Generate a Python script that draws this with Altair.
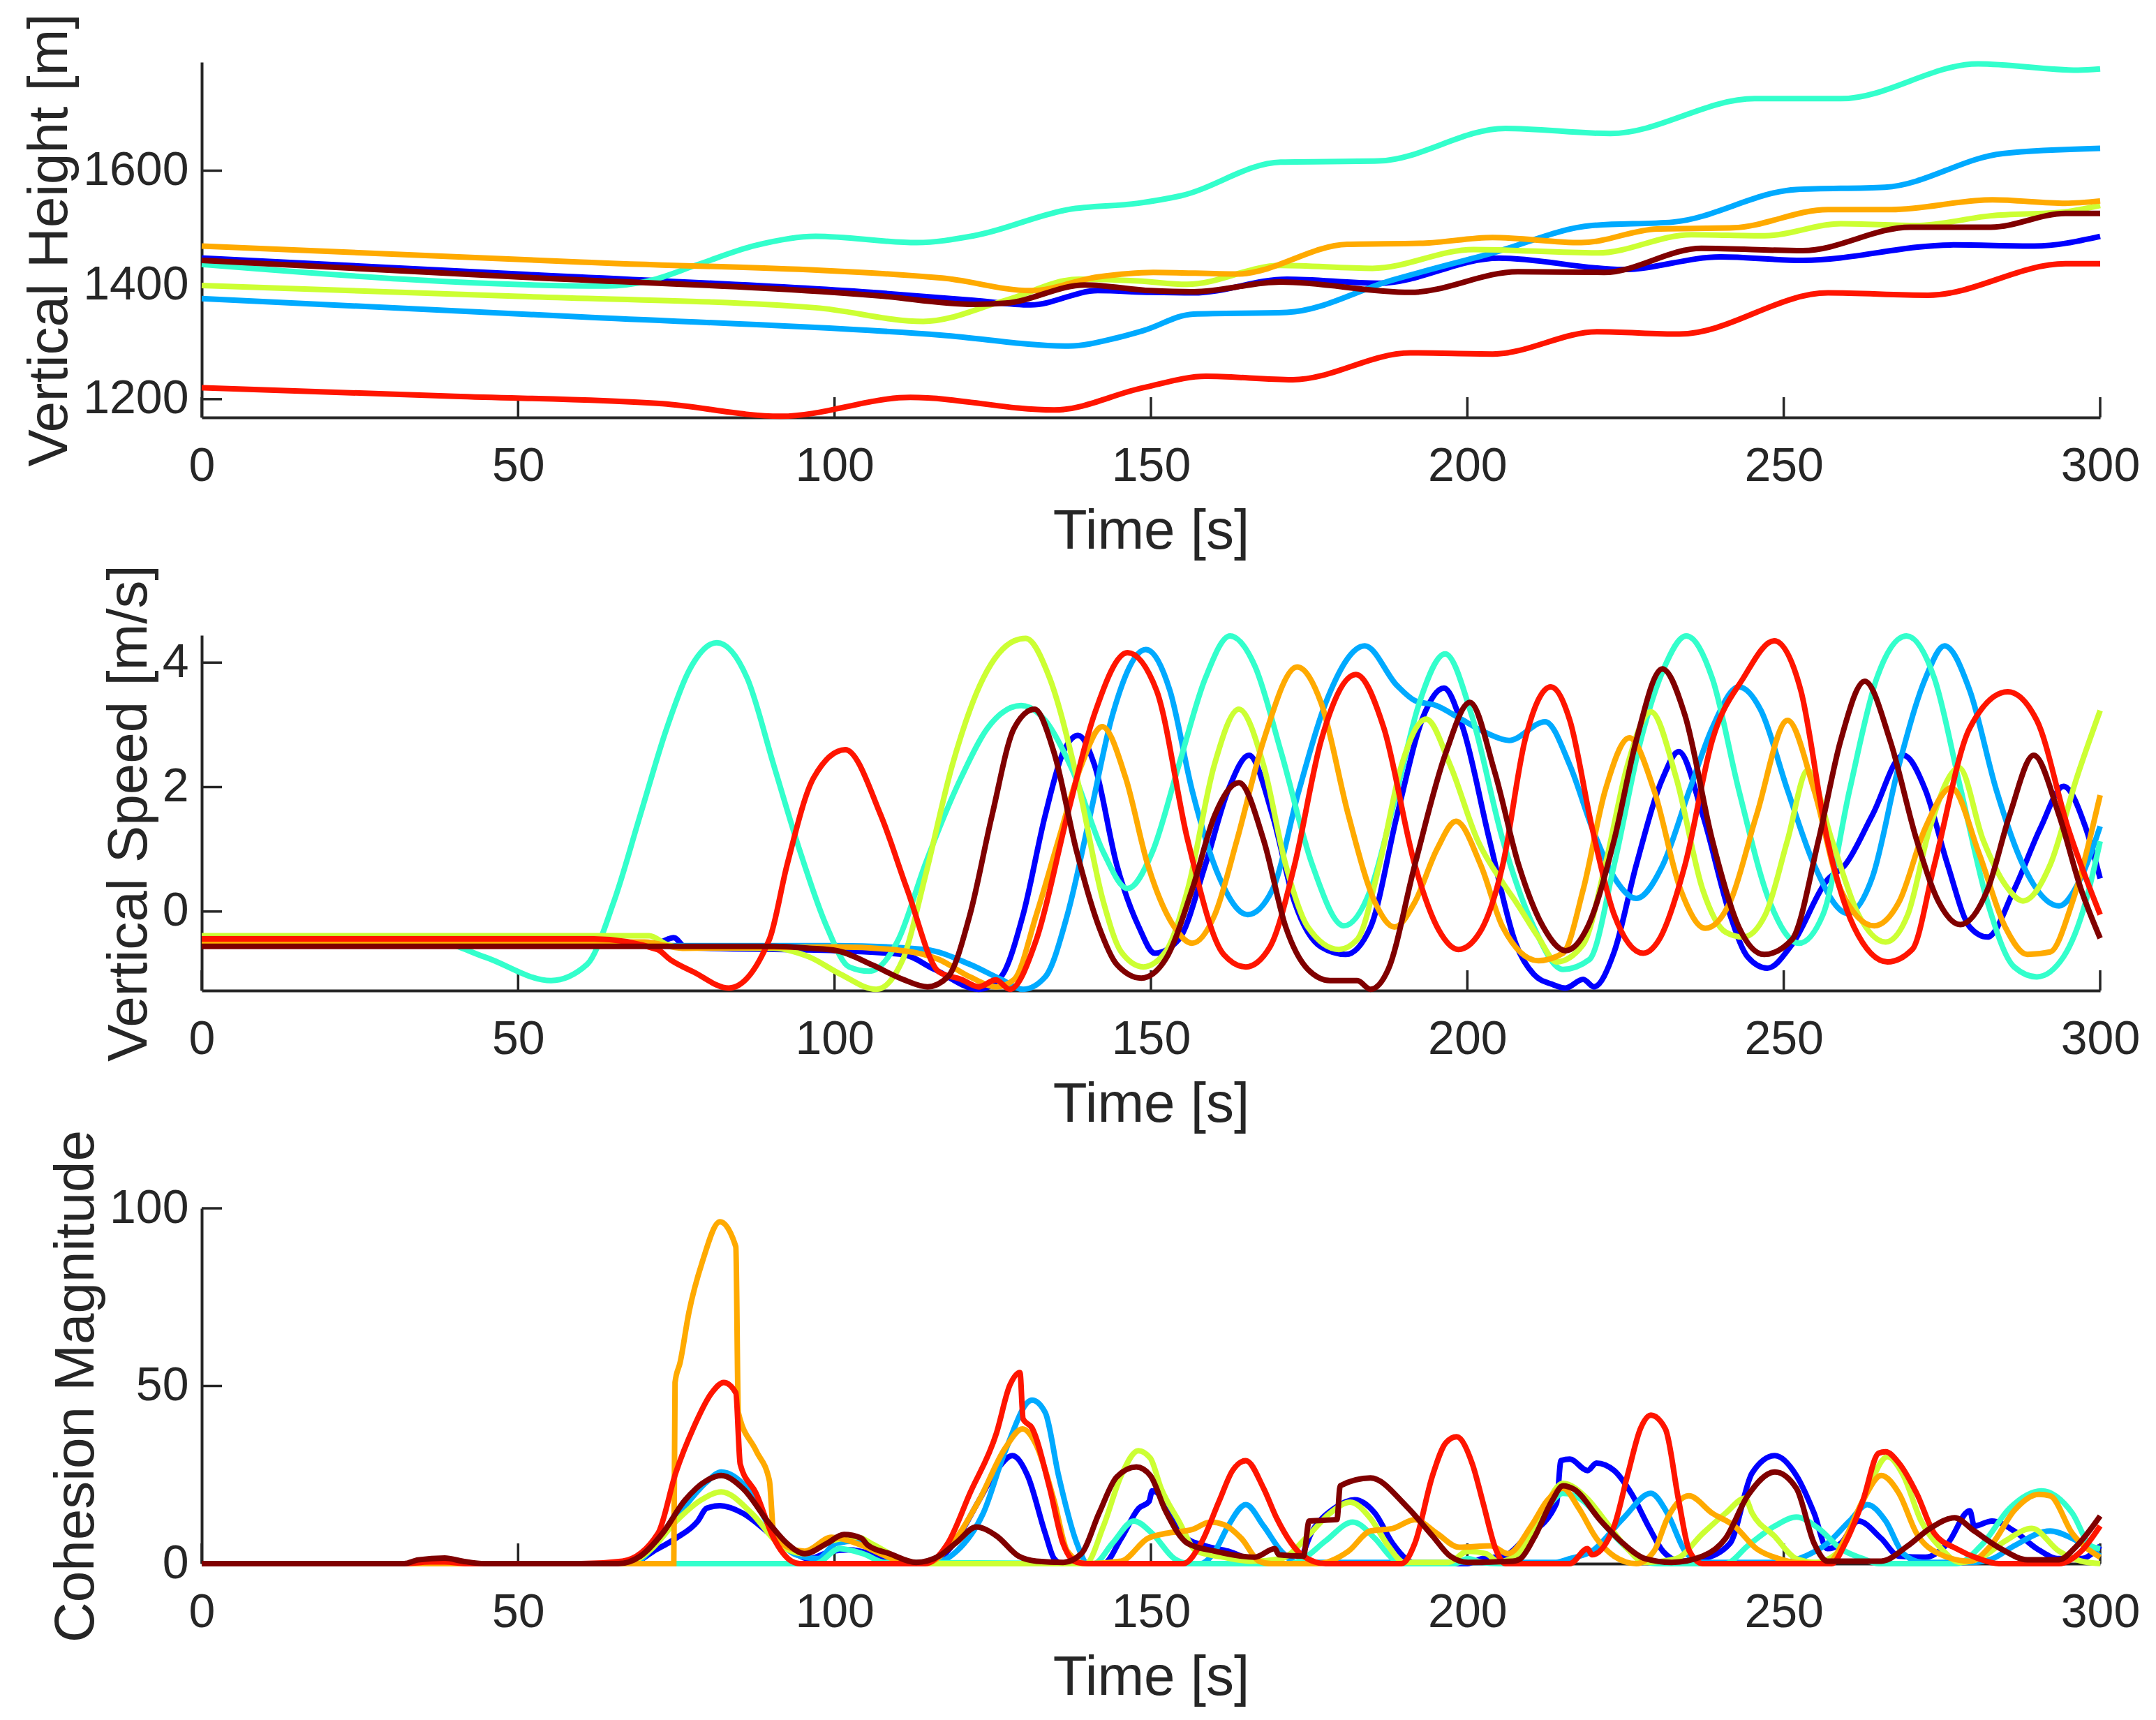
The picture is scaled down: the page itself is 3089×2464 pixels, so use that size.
import altair as alt
import pandas as pd

# Jet-like colour per agent, in drawing order (last one on top)
COLORS = ["#0000FF", "#00AAFF", "#33FFCC", "#CCFF33", "#FFAA00", "#FF1500", "#800000"]
T_TICKS = [0, 50, 100, 150, 200, 250, 300]
AXIS_COLOR = "#262626"
W, H = 2720, 509
TICK_LEN = 29

# ---- Vertical height [m], (t, value) ----
height_blue = [(0, 1447), (50, 1419), (107, 1386), (122, 1373), (131, 1365), (141.6, 1390), (150, 1387),
               (156.7, 1386), (171.5, 1410), (186, 1403), (205, 1447), (224.6, 1427), (240, 1449),
               (253, 1443), (276.8, 1470), (289.6, 1468), (300, 1485)]
height_lightblue = [(0, 1376), (60, 1344), (117, 1312), (137, 1293), (144.5, 1307), (148.8, 1320),
                    (156.7, 1349), (171.5, 1352), (188, 1408), (204, 1456), (219.7, 1504), (232.5, 1510),
                    (252, 1567), (266, 1571), (284.6, 1630), (300, 1639)]
height_turquoise = [(0, 1436), (64, 1398), (71, 1408), (78, 1434), (87.5, 1469), (97, 1485), (113, 1474),
                    (122, 1486), (137, 1532), (148, 1543), (154.7, 1556), (170.5, 1615), (186, 1617),
                    (206, 1674), (222.6, 1665), (245.4, 1726), (259, 1726), (280.7, 1787), (296.5, 1776),
                    (300, 1778)]
height_yellowgreen = [(0, 1399), (50, 1380), (97, 1360), (114, 1336), (127, 1373), (138.6, 1410),
                      (148, 1407), (155.7, 1401), (170.5, 1434), (185, 1429), (201, 1462), (220.6, 1456),
                      (235.4, 1488), (247, 1486), (259, 1507), (271, 1504), (282.7, 1521), (294.5, 1528),
                      (300, 1539)]
height_orange = [(0, 1468), (60, 1440), (117, 1412), (131, 1390), (141.6, 1414), (150.4, 1422),
                 (163.6, 1419), (181, 1471), (193, 1473), (204, 1483), (218, 1474), (230, 1498),
                 (242, 1500), (257, 1532), (267, 1532), (283, 1549), (294.5, 1543), (300, 1547)]
height_red = [(0, 1220), (40, 1205), (72.8, 1192), (91.5, 1170), (112, 1203), (134.7, 1181), (148.8, 1220),
              (158.7, 1240), (172.4, 1234), (191, 1281), (204, 1279), (220.6, 1318), (233.5, 1314),
              (257, 1386), (272.8, 1382), (294.5, 1437), (300, 1437)]
height_darkred = [(0, 1443), (50, 1414), (107, 1381), (122, 1366), (127, 1368), (139.6, 1400), (150, 1390),
                  (156.7, 1388), (170.5, 1405), (191, 1387), (208, 1423), (221.6, 1422), (237, 1464),
                  (253, 1460), (270, 1501), (282.7, 1501), (294.5, 1525), (300, 1525)]

# ---- Vertical speed [m/s], (t, value) ----
speed_blue = [(0, -0.53), (70, -0.53), (72.5, -0.49), (74.6, -0.42), (76.5, -0.58), (100.4, -0.63),
              (110.8, -0.69), (115.8, -0.93), (122.8, -1.25), (126.3, -1.05), (129.8, -0.05), (133.3, 1.55),
              (136.1, 2.55), (138.5, 2.83), (141.1, 2.35), (144.6, 0.75), (148.1, -0.25), (150.6, -0.67),
              (154.4, -0.45), (158.6, 0.75), (162.2, 1.95), (165.5, 2.51), (169.2, 1.55), (172.7, 0.15),
              (176.9, -0.57), (180.8, -0.69), (184.7, -0.25), (188.9, 1.55), (193.1, 3.15), (196.3, 3.59),
              (199.3, 2.95), (203.5, 1.15), (207.7, -0.53), (210.5, -1.01), (213.4, -1.17), (215.5, -1.23),
              (218.3, -1.09), (220, -1.21), (223.2, -0.65), (226.7, 0.75), (230.9, 2.15), (233.4, 2.57),
              (237.2, 1.55), (241.5, -0.05), (244.3, -0.73), (247.4, -0.91), (251.3, -0.53), (256.9, 0.51),
              (259.7, 0.75), (264, 1.55), (268.9, 2.51), (272.4, 1.95), (275.9, 0.75), (279.4, -0.25),
              (282.2, -0.41), (286.4, 0.35), (290.6, 1.35), (294.2, 2.01), (297.7, 1.35), (300, 0.53)]
speed_lightblue = [(0, -0.55), (100.4, -0.55), (114.3, -0.61), (121.4, -0.85), (126.3, -1.09),
                   (129.8, -1.25), (133.3, -1.05), (136.8, -0.05), (140.4, 1.55), (143.9, 3.15),
                   (149.2, 4.21), (153, 3.55), (156.5, 1.95), (160.8, 0.55), (165.3, -0.05), (169.2, 0.35),
                   (173.4, 1.95), (177.6, 3.35), (183.8, 4.27), (188.9, 3.63), (191.7, 3.39), (195.1, 3.31),
                   (198.7, 3.11), (203, 2.87), (206.6, 2.75), (212.3, 3.05), (216.2, 2.35), (219.7, 1.35),
                   (223.2, 0.55), (226.7, 0.21), (230.9, 0.75), (235.1, 1.95), (238.7, 2.95), (242.9, 3.61),
                   (246.4, 3.23), (250.6, 1.95), (254.8, 0.75), (260.1, -0.03), (264, 0.55), (268.2, 2.35),
                   (272.4, 3.75), (275.4, 4.27), (279.4, 3.55), (283.6, 1.95), (287.8, 0.75), (293.5, 0.09),
                   (297, 0.55), (300, 1.37)]
speed_turquoise = [(0, -0.51), (37.7, -0.51), (44.7, -0.73), (55.2, -1.11), (60.9, -0.85), (65.1, 0.15),
                   (69.3, 1.55), (73.5, 2.95), (77, 3.87), (81.4, 4.32), (86.2, 3.75), (90.4, 2.35),
                   (94.6, 0.95), (98.8, -0.25), (102.3, -0.89), (105.5, -0.96), (110.1, -0.45), (114.3, 0.75),
                   (120, 2.15), (124.2, 2.95), (129.5, 3.31), (133.3, 3.07), (137.6, 2.27), (142.5, 0.95),
                   (146.3, 0.37), (150.2, 0.95), (154.4, 2.35), (158.6, 3.75), (162.5, 4.43), (166.4, 3.95),
                   (170.6, 2.55), (175.5, 0.75), (180.5, -0.23), (184.7, 0.35), (188.9, 1.95), (192.4, 3.35),
                   (196.5, 4.14), (200.7, 3.15), (205.6, 1.15), (210.5, -0.25), (215.1, -0.93), (219.3, -0.77),
                   (223.2, 0.75), (227.4, 2.75), (230.9, 3.87), (234.6, 4.43), (238.7, 3.75), (242.9, 1.95),
                   (247.8, 0.15), (252.4, -0.51), (256.2, -0.05), (260.4, 1.95), (264.7, 3.75), (269.4, 4.43),
                   (273.8, 3.75), (278, 1.95), (282.2, 0.15), (286.4, -0.89), (290, -1.05), (294.2, -0.73),
                   (297.7, 0.15), (300, 1.13)]
speed_yellowgreen = [(0, -0.39), (70.7, -0.39), (73.5, -0.53), (76, -0.58), (90.4, -0.59), (96, -0.73),
                     (101, -1.01), (106.6, -1.25), (110.8, -0.77), (114.3, 0.55), (118.6, 2.35), (123.5, 3.75),
                     (128.4, 4.35), (130.2, 4.39), (134, 3.75), (138.3, 2.15), (142.5, 0.15), (145.3, -0.65),
                     (148.8, -0.89), (152.3, -0.65), (155.8, 0.35), (160, 2.35), (163.9, 3.25), (167.8, 2.35),
                     (171.3, 0.75), (174.8, -0.25), (179.7, -0.61), (182.6, -0.45), (186.1, 0.75), (189.6, 2.35),
                     (193.5, 3.09), (197.3, 2.35), (201.6, 1.15), (205.8, 0.43), (207.7, 0.15), (211.2, -0.41),
                     (214.1, -0.81), (218.3, -0.53), (221.8, 0.75), (225.3, 2.35), (229, 3.21), (233, 2.15),
                     (237.2, 0.35), (240.8, -0.33), (243.6, -0.41), (247.1, -0.05), (250.6, 1.15), (253.8, 2.27),
                     (257.6, 1.15), (261.8, -0.05), (266.1, -0.49), (269.6, -0.05), (273.1, 1.35), (277.7, 2.31),
                     (281.5, 1.15), (285, 0.43), (287.8, 0.17), (292.1, 0.75), (296.3, 2.15), (300, 3.23)]
speed_orange = [(0, -0.49), (70, -0.49), (76, -0.59), (100.4, -0.57), (110.8, -0.63), (116.5, -0.77),
                (121.4, -1.05), (125.6, -1.21), (128.4, -1.09), (131.9, -0.05), (135.4, 1.15), (139, 2.35),
                (142.3, 2.97), (146, 2.15), (149.5, 0.75), (153.7, -0.25), (156.5, -0.51), (160.1, -0.05),
                (163.6, 1.15), (167.8, 2.75), (173.1, 3.93), (176.9, 3.35), (181.2, 1.55), (185.4, 0.15),
                (188.5, -0.25), (191.7, 0.15), (195.2, 1.0), (198.2, 1.45), (202.1, 0.75), (205.6, -0.25),
                (211.2, -0.79), (215.1, -0.67), (218.3, 0.35), (221.8, 1.95), (225.6, 2.79), (229.5, 1.95),
                (233.7, 0.35), (237.6, -0.27), (241.5, 0.15), (245.7, 1.55), (250.6, 3.07), (254.8, 1.95),
                (259, 0.35), (264.3, -0.23), (268.2, 0.15), (272.4, 1.35), (276.5, 1.99), (280.8, 0.95),
                (285, -0.25), (288.5, -0.69), (292.1, -0.65), (295.6, 0.15), (300, 1.87)]
speed_red = [(0, -0.44), (62, -0.44), (72, -0.61), (74, -0.77), (77.7, -0.97), (83.3, -1.23), (89.7, -0.45),
             (92.5, 0.75), (96.7, 2.15), (101.7, 2.6), (107.3, 1.55), (111.5, 0.35), (116.5, -0.97),
             (120, -1.09), (122.8, -1.21), (125.5, -1.1), (127.7, -1.25), (131.9, -0.45), (136.8, 1.55),
             (141, 3.15), (146.3, 4.16), (150.9, 3.55), (155.8, 1.15), (161.5, -0.69), (165, -0.89),
             (168.8, -0.57), (172.7, 0.75), (176.9, 2.75), (182.4, 3.81), (186.8, 2.95), (191.7, 0.75),
             (195.5, -0.3), (198.6, -0.61), (202, -0.33), (205.6, 0.75), (209.1, 2.75), (213.2, 3.61),
             (216.2, 3.07), (219.7, 1.35), (223.2, -0.05), (227.8, -0.67), (230.2, -0.47), (234.4, 0.75),
             (238.7, 2.75), (243.6, 3.75), (248.5, 4.35), (252.7, 3.55), (256.9, 1.15), (261.1, -0.25),
             (266.4, -0.81), (270.3, -0.61), (273.8, 0.75), (279.4, 2.95), (285.4, 3.53), (290, 3.07),
             (294.9, 1.35), (300, -0.05)]
speed_darkred = [(0, -0.56), (90.4, -0.56), (96, -0.59), (100.4, -0.63), (106, -0.86), (110.8, -1.09),
                 (114.7, -1.21), (117.9, -1.05), (121.4, -0.05), (124.9, 1.55), (128.4, 2.95), (131.6, 3.25),
                 (134.7, 2.55), (138.3, 0.95), (141.8, -0.25), (144.6, -0.85), (148.5, -1.07), (152.3, -0.77),
                 (156.5, 0.35), (160.1, 1.55), (163.9, 2.07), (167.8, 1.15), (171.3, -0.25), (174.8, -0.93),
                 (178.3, -1.11), (182.6, -1.11), (184.7, -1.25), (187.5, -0.93), (191.7, 0.75), (196.6, 2.55),
                 (200.4, 3.36), (204.3, 2.25), (208.1, 0.75), (212, -0.25), (215.5, -0.63), (219, -0.25),
                 (223.2, 1.15), (226.7, 2.75), (230.8, 3.9), (234.4, 3.15), (238.7, 1.15), (242.9, -0.25),
                 (246.9, -0.69), (251.3, -0.45), (255.5, 1.15), (259, 2.75), (262.8, 3.7), (266.8, 2.75),
                 (271, 1.15), (274.5, 0.15), (277.9, -0.21), (282.2, 0.35), (285.7, 1.55), (289.5, 2.51),
                 (293.5, 1.55), (297, 0.35), (300, -0.43)]

# ---- Cohesion magnitude, (t, value) ----
coh_blue = [(0, 0), (67.9, 0), (71.4, 3.5), (74.9, 7.1), (78.4, 12), (79.8, 15.6), (81.9, 16.3), (85.5, 14.2),
            (89.7, 8.5), (93.2, 3.5), (96, 1.4), (99.5, 3.5), (102.3, 3.9), (105.8, 2.8), (109.2, 0.7),
            (112, 0), (115, 0), (118.6, 5.0), (122.8, 17.7), (125.6, 26.2), (128.1, 30.4), (130.5, 24.8),
            (133.3, 8.5), (134.7, 1.4), (136, 0), (142.5, 0), (145.3, 7.1), (148.1, 15.6), (149.7, 17.5),
            (150.2, 20.5), (152.5, 17), (155.1, 7.8), (158.6, 5.0), (162.2, 3.5), (166.4, 0.7), (168, 0),
            (173, 0), (175.5, 9.2), (179, 15.6), (182.2, 18), (185.4, 14.2), (188.2, 5.7), (190.3, 1.4),
            (192, 0), (200, 0), (202.3, 1.4), (205.8, 2.1), (209.1, 7.1), (214.1, 17), (214.8, 29),
            (216.2, 29.4), (219, 26.2), (220.4, 28.3), (223.2, 26.2), (225.9, 19.8), (228.8, 9.9),
            (230.9, 3.5), (233.7, 0.7), (237.2, 1.4), (241.5, 5.7), (245, 25.5), (248.6, 30.4), (252, 24.8),
            (254.8, 14.2), (256.9, 4.2), (259, 5.7), (261.8, 12), (265.4, 7.1), (268.2, 2.1), (272.4, 1.8),
            (275.9, 5.7), (279.4, 14.9), (280.1, 10.6), (282.9, 12), (286.4, 9.2), (290, 4.2), (293.5, 1.4),
            (297, 1.4), (300, 5.0)]
coh_lightblue = [(0, 0), (68, 0), (72, 6), (76.3, 16), (79.8, 23), (82.1, 25.8), (86.2, 21.2), (90.4, 8.5),
                 (93.9, 2.5), (97.4, 1.4), (100.2, 5.7), (103.7, 6.4), (106, 4.2), (109.2, 1.4), (111, 0.35),
                 (116, 0.35), (119.3, 3.5), (123.5, 14.2), (127, 31.8), (131.2, 46), (133.3, 42.5),
                 (135.4, 24.8), (138.3, 5.7), (140, 0), (157.9, 0), (160.1, 3.5), (162.2, 10.6), (165, 16.6),
                 (167.8, 10.6), (170.6, 3.5), (173, 0.35), (214, 0.35), (216.2, 1.4), (219.7, 3.5),
                 (224.6, 12.7), (229, 19.8), (231.6, 14.2), (234.4, 3.5), (237, 0.35), (250, 0.35),
                 (253.4, 2.1), (256.9, 5.7), (260.4, 12), (263.2, 16.6), (266.1, 12), (268.9, 2.8),
                 (272, 0.35), (280, 0.35), (283, 1.4), (286.4, 5.0), (292.1, 9.2), (295.6, 7.1), (300, 2.1)]
coh_turquoise = [(0, 0), (97, 0), (100.8, 4.2), (104.5, 2.8), (108, 0.35), (141, 0), (143.9, 5.7),
                 (147.3, 12), (150.2, 8.5), (153.7, 1.4), (156, 0), (172, 0), (174.1, 1.4), (177.6, 6.4),
                 (181.9, 11.7), (185.4, 7.1), (188.2, 1.4), (190, 0), (198, 0), (200.1, 1.4), (202, 0.5),
                 (205, 0), (207, 0), (209.1, 5.7), (212.6, 15.6), (215.1, 19.8), (218.3, 17.7), (221.8, 10.6),
                 (225.3, 4.2), (228.1, 0.7), (230, 0), (240.8, 0), (244.3, 5.0), (248.6, 10.6), (252, 13.1),
                 (255.5, 9.9), (259, 4.2), (262.5, 1.4), (265, 0), (277.3, 0), (281.5, 5.7), (285.7, 15.6),
                 (290.7, 20.5), (295.6, 14.2), (298.5, 5.0), (300, 4.2)]
coh_yellowgreen = [(0, 0), (67, 0), (71, 4), (75, 12), (79, 18), (82.1, 20.2), (86.9, 14.2), (91.1, 5.7),
                   (95.3, 2.8), (99.5, 6.4), (103.7, 7.4), (106, 5.5), (110.8, 1.1), (114.3, 0), (139.7, 0),
                   (142.5, 10.6), (145.3, 24.8), (148, 31.8), (149.9, 29.7), (151.6, 21.2), (154.4, 12),
                   (157.2, 3.5), (161.5, 1.8), (166, 0.7), (170.6, 1.4), (174.8, 7.8), (178.3, 14.2),
                   (181.5, 17.3), (184.7, 12.7), (187.5, 5.0), (190, 0.35), (197, 0.35), (200.1, 3.5),
                   (203, 2.8), (204.9, 0.5), (208.4, 3.5), (211.2, 12), (215.1, 22.6), (218.9, 18.4),
                   (221.8, 12), (225.3, 4.2), (228, 0.35), (233, 1.4), (237.2, 8.5), (240.8, 14.2),
                   (243.9, 18.4), (245, 14.2), (248.5, 7.8), (252, 1.4), (255, 0.35), (258.3, 2.8),
                   (262.5, 17.7), (266.4, 30.1), (268.9, 24.8), (271.7, 12), (274.5, 5.0), (278, 0.35),
                   (281, 1.5), (285, 6.4), (289.2, 9.9), (293.5, 3.5), (297, 0.7), (300, 0)]
coh_orange = [(0, 0), (74.6, 0), (74.8, 51), (75.6, 56.6), (77, 70.8), (79.1, 84.9), (81.9, 96.2),
              (84.4, 89.2), (84.8, 42.5), (87.6, 31.8), (89.7, 23.4), (90.4, 8.5), (93.2, 4.2), (95.3, 3.5),
              (99.5, 7.4), (103, 6), (104.5, 5.0), (109.2, 1.4), (110.8, 0.7), (114.3, 0), (117.9, 4.2),
              (122.8, 17.7), (127, 32.6), (129.7, 37.9), (131.9, 33.3), (134.7, 17.7), (136.8, 3.5),
              (139.7, 0), (145.3, 0.7), (149.5, 7.1), (152.3, 8.5), (156.5, 9.6), (159.4, 11.7), (161.5, 11),
              (164.3, 7.1), (167.1, 0.7), (169, 0), (176.2, 0), (181.2, 3.5), (184.7, 9.2), (188.2, 9.9),
              (191.7, 12.4), (195.2, 8.5), (198.7, 4.6), (203.7, 5.0), (206.4, 2.8), (210.1, 10.6),
              (212.6, 17.7), (215.1, 21.2), (217.6, 15.6), (220.4, 7.1), (223.2, 2.1), (226.7, 0),
              (229.5, 3.5), (231.6, 12.7), (235, 19.1), (238.7, 14.2), (242.2, 10.6), (245.7, 4.2),
              (249.2, 1.4), (252, 0.3), (256.9, 0), (259.7, 7.1), (262.5, 17.7), (265.4, 24.8), (268.2, 19.8),
              (271, 8.5), (274.5, 2.8), (279.4, 0.7), (283, 5.7), (286.4, 14.9), (290.3, 19.5), (292.1, 19.1),
              (295.6, 8.5), (300, 1.8)]
coh_red = [(0, 0), (32, 0), (36, 0.5), (38.4, 0.5), (42, 0), (60, 0), (66.5, 0.7), (72.1, 8.5), (74.9, 25.5),
           (77.7, 38.2), (80.6, 48.1), (82.5, 51), (84.4, 48.1), (85.1, 28), (87.6, 19.8), (90.4, 7.1),
           (93.2, 0.7), (94.5, 0), (114.3, 0), (117.9, 5.7), (121.4, 19.8), (125.6, 36.8), (127.7, 50.2),
           (129.3, 53.8), (129.8, 40.7), (131.2, 38.2), (134, 21.2), (136.1, 5.7), (138.3, 0.35), (140, 0),
           (155.1, 0), (157.9, 5.7), (160.8, 17.7), (162.9, 26.2), (165, 29), (167.8, 21.2), (169.9, 12.7),
           (174.1, 2.1), (177.6, 0), (189.6, 0), (191.7, 5.7), (194.5, 24.8), (196.6, 34), (198.3, 35.7),
           (200.8, 28), (202.5, 17), (204.5, 4), (206, 0), (216.2, 0), (219, 4.2), (219.7, 2.5),
           (223.2, 10.6), (225.3, 24.8), (227.4, 38.2), (229, 41.8), (231.3, 37.9), (233.4, 17.7),
           (235.1, 3.5), (237.2, 0), (257.6, 0), (259.7, 5.7), (262.5, 17.7), (265, 31.1), (266.1, 31.5),
           (268.2, 28.3), (271, 19.8), (273.8, 8.5), (277.3, 4.2), (280.8, 1.4), (284, 0), (293.5, 0),
           (297, 3.5), (300, 10.6)]
coh_darkred = [(0, 0), (32, 0), (34.2, 1.06), (38.4, 1.56), (41.2, 0.7), (44.7, 0), (65.8, 0), (69.3, 2.1),
               (72.8, 8.5), (76.3, 17.7), (79.8, 23.4), (82.1, 24.8), (85.5, 21.2), (89.7, 11.3), (92.5, 5.7),
               (95.3, 2.8), (98.8, 5.7), (101.5, 8.2), (104.2, 7.2), (105.2, 5.3), (108.7, 2.8), (112.9, 0.35),
               (116.5, 2.1), (119.3, 6.0), (122.4, 10.3), (125.6, 7.8), (129.1, 2.1), (131.9, 0.7),
               (136.1, 0.35), (139, 2.8), (141.8, 14.2), (144.6, 24.4), (147.7, 27.2), (149.9, 24.8),
               (152.3, 14.9), (155.8, 5.7), (160.1, 3.5), (166.4, 1.8), (169.6, 4.2), (170.2, 2.5),
               (174.1, 2.1), (175, 12), (179.4, 12.4), (179.9, 21.9), (184.7, 24.1), (190.3, 16.3),
               (194.5, 7.8), (197.3, 2.1), (200.1, 0.35), (207.2, 0.7), (208.4, 1.4), (210.5, 7.1),
               (213.4, 17.7), (215.1, 21.9), (216.9, 20.9), (221.1, 12), (224.6, 5.7), (228.1, 1.4),
               (232.3, 0.35), (237.2, 2.1), (240.8, 7.1), (244.3, 19.1), (248.6, 25.8), (252, 21.2),
               (254.8, 5.7), (256.9, 0.7), (265.4, 0.7), (269.6, 5.0), (273.1, 9.9), (277, 12.9),
               (280.1, 9.2), (284.3, 4.2), (288.5, 1.1), (293.5, 1.1), (296.3, 5.0), (300, 13.4)]

HEIGHT = [height_blue, height_lightblue, height_turquoise, height_yellowgreen,
          height_orange, height_red, height_darkred]
SPEED = [speed_blue, speed_lightblue, speed_turquoise, speed_yellowgreen,
         speed_orange, speed_red, speed_darkred]
COHESION = [coh_blue, coh_lightblue, coh_turquoise, coh_yellowgreen,
            coh_orange, coh_red, coh_darkred]


def panel(series, domain, yticks, ytitle):
    x = alt.X("t:Q", scale=alt.Scale(domain=[0, 300], nice=False, zero=False),
              axis=alt.Axis(values=T_TICKS, title="Time [s]", labelFlush=False,
                            labelPadding=36, titlePadding=20))
    y = alt.Y("v:Q", scale=alt.Scale(domain=domain, nice=False, zero=False),
              axis=alt.Axis(values=yticks, title=ytitle, format="d", labelFlush=False,
                            labelPadding=19, titlePadding=6))
    # MATLAB-style inward ticks
    xt = (alt.Chart(pd.DataFrame({"t": T_TICKS}))
          .mark_rule(color=AXIS_COLOR, strokeWidth=3.5)
          .encode(x=x, y=alt.value(H), y2=alt.value(H - TICK_LEN)))
    yt = (alt.Chart(pd.DataFrame({"v": yticks}))
          .mark_rule(color=AXIS_COLOR, strokeWidth=3.5)
          .encode(y=y, x=alt.value(0), x2=alt.value(TICK_LEN)))
    lines = [
        alt.Chart(pd.DataFrame(pts, columns=["t", "v"]))
        .mark_line(color=c, strokeWidth=8, interpolate="monotone")
        .encode(x=x, y=y)
        for pts, c in zip(series, COLORS)
    ]
    return alt.layer(xt, yt, *lines).properties(width=W, height=H)


top = panel(HEIGHT, [1168, 1790], [1200, 1400, 1600], "Vertical Height [m]")
mid = panel(SPEED, [-1.27, 4.44], [0, 2, 4], "Vertical Speed [m/s]")
bot = panel(COHESION, [0, 100], [0, 50, 100], "Cohesion Magnitude")

chart = (
    alt.vconcat(top, mid, bot, spacing=312, bounds="flush")
    .properties(padding={"left": 23, "top": 10, "right": 10, "bottom": 10}, background="white")
    .configure(font="Liberation Sans")
    .configure_view(stroke=None)
    .configure_axis(domainColor=AXIS_COLOR, domainWidth=4, ticks=False, grid=False,
                    labelColor=AXIS_COLOR, labelFontSize=68, titleColor=AXIS_COLOR,
                    titleFontSize=80, titleFontWeight="normal")
)

chart.save("out.html", embed_options={"renderer": "svg", "actions": False})
